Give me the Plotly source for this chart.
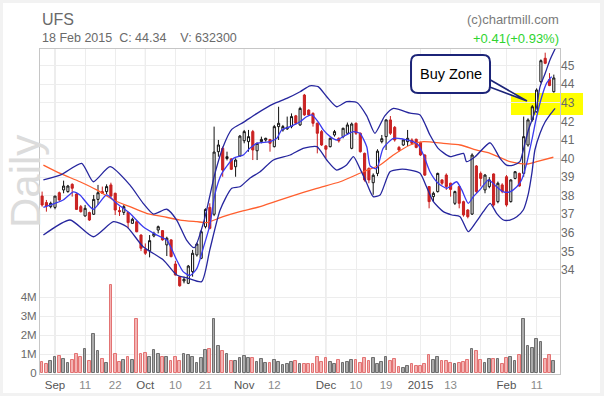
import plotly.graph_objects as go

# ---------------- data (trading-day index: 0 = 2 Sep 2014) ----------------
day = list(range(-3, 117))

opens = [37.98, 37.63, 37.41, 37.37, 38.16, 38.31, 38.22, 38.61, 38.09, 37.41,
         36.91, 37.09, 37.00, 37.80, 38.22, 38.22, 38.58, 38.13, 37.20, 37.10,
         37.10, 36.51, 36.60, 35.88, 35.11, 35.04, 35.83, 36.15, 36.12, 35.35,
         35.62, 34.32, 33.64, 33.41, 33.28, 33.91, 34.81, 34.63, 36.33, 37.37,
         37.00, 40.37, 40.55, 40.00, 39.98, 39.56, 40.14, 40.96, 40.91, 41.45,
         40.42, 40.91, 41.00, 41.03, 40.64, 41.72, 41.54, 41.60, 41.72, 42.30,
         41.81, 43.42, 42.61, 42.43, 41.90, 41.45, 40.68, 40.64, 41.27, 41.09,
         41.18, 41.36, 40.55, 41.90, 41.36, 40.28, 39.47, 38.70, 39.20, 40.91,
         41.18, 42.08, 41.68, 40.60, 40.73, 40.91, 41.00, 41.04, 40.86, 40.19,
         38.49, 37.95, 38.22, 38.85, 39.11, 38.67, 37.59, 38.49, 37.68, 37.23,
         37.01, 39.60, 39.20, 38.31, 38.49, 39.17, 37.68, 38.58, 39.02, 37.68,
         38.93, 39.20, 39.20, 40.73, 42.08, 42.52, 44.14, 45.40, 44.25, 43.60]
highs = [38.22, 37.77, 37.68, 37.98, 38.22, 38.81, 38.58, 38.67, 38.13, 37.50,
         37.50, 37.14, 38.04, 38.58, 38.49, 38.61, 38.70, 38.16, 37.41, 37.50,
         37.14, 36.82, 36.64, 35.92, 35.43, 35.88, 36.06, 36.39, 36.15, 35.79,
         35.65, 34.49, 33.68, 33.64, 34.27, 35.08, 35.47, 36.15, 37.32, 37.59,
         41.72, 41.00, 40.64, 40.37, 40.02, 40.01, 41.27, 41.54, 41.54, 41.54,
         40.86, 41.18, 41.12, 41.03, 41.81, 42.79, 41.81, 42.26, 42.43, 42.35,
         42.79, 43.48, 42.65, 42.49, 41.94, 41.54, 40.73, 41.14, 41.54, 41.14,
         41.66, 41.94, 41.94, 41.94, 41.40, 40.32, 39.52, 39.20, 40.50, 41.27,
         42.11, 42.29, 41.75, 40.68, 41.04, 41.54, 41.09, 41.07, 40.91, 40.23,
         38.52, 38.22, 39.24, 38.88, 39.20, 38.70, 38.27, 38.52, 37.73, 37.27,
         40.28, 39.65, 39.30, 39.17, 39.00, 39.20, 38.76, 38.67, 39.11, 38.88,
         39.33, 39.24, 42.26, 42.17, 42.88, 43.78, 45.34, 45.70, 44.60, 44.52]
lows = [37.41, 37.14, 37.32, 37.27, 37.73, 38.13, 38.16, 37.95, 37.23, 37.09,
        36.87, 36.64, 36.96, 37.50, 38.09, 38.09, 37.84, 36.96, 36.91, 36.96,
        36.24, 36.51, 36.03, 35.02, 34.81, 34.68, 35.76, 35.97, 35.58, 34.75,
        34.68, 33.70, 33.10, 33.28, 33.24, 33.64, 34.72, 34.58, 36.24, 36.19,
        36.90, 40.10, 39.02, 39.90, 39.38, 39.02, 40.10, 40.82, 40.37, 39.92,
        39.92, 40.82, 40.91, 40.37, 40.60, 41.00, 41.45, 41.54, 41.63, 41.81,
        41.76, 42.30, 42.30, 41.72, 40.28, 40.68, 40.01, 40.60, 41.18, 40.86,
        41.09, 41.27, 40.50, 41.27, 40.32, 38.76, 38.67, 38.05, 39.05, 40.82,
        40.46, 41.27, 40.91, 40.37, 40.68, 40.68, 40.73, 40.55, 40.14, 39.06,
        37.32, 37.68, 38.17, 38.58, 38.31, 37.95, 37.50, 37.32, 36.87, 36.78,
        36.96, 38.13, 38.50, 38.13, 38.40, 37.41, 37.59, 38.13, 37.41, 37.63,
        38.88, 38.49, 39.02, 40.64, 41.99, 42.47, 44.05, 45.08, 43.90, 43.55]
closes = [37.50, 37.45, 37.59, 37.98, 37.77, 38.52, 38.52, 38.40, 37.26, 37.14,
          37.32, 36.69, 37.80, 38.16, 38.13, 38.49, 37.98, 37.23, 37.14, 37.41,
          36.55, 36.73, 36.06, 35.17, 34.90, 35.58, 35.97, 36.33, 35.62, 35.71,
          34.72, 33.73, 33.15, 33.50, 34.21, 34.90, 35.40, 36.06, 37.26, 36.24,
          40.35, 40.73, 39.38, 40.10, 39.42, 39.92, 41.21, 41.45, 41.18, 40.46,
          40.82, 41.03, 41.09, 40.82, 41.72, 41.90, 41.72, 41.68, 42.26, 41.90,
          42.70, 42.35, 42.35, 41.90, 41.36, 40.73, 40.50, 41.09, 41.45, 40.95,
          41.63, 41.81, 41.86, 41.36, 40.37, 38.85, 38.85, 39.10, 40.40, 41.07,
          42.08, 41.36, 41.00, 40.46, 41.00, 41.09, 40.82, 40.60, 40.19, 39.11,
          37.68, 38.13, 39.20, 38.67, 38.49, 38.34, 38.22, 37.59, 36.96, 36.87,
          40.19, 38.22, 38.93, 39.11, 38.85, 37.50, 38.67, 38.22, 37.50, 38.85,
          39.29, 38.52, 41.18, 42.08, 42.79, 43.69, 45.27, 45.13, 43.93, 44.34]
volume_m = [0.58, 0.47, 0.63, 0.82, 0.89, 0.72, 0.53, 0.68, 1.00, 0.84,
            1.26, 0.63, 2.05, 1.16, 0.74, 0.53, 4.63, 1.00, 0.58, 0.68,
            0.84, 0.68, 2.84, 1.00, 1.05, 0.84, 1.21, 1.00, 0.84, 0.84,
            0.63, 0.84, 0.63, 1.00, 0.93, 0.84, 0.53, 0.79, 1.21, 1.26,
            2.84, 1.42, 1.16, 1.00, 0.63, 0.63, 0.79, 0.89, 0.79, 0.79,
            0.58, 0.74, 0.53, 0.53, 0.68, 0.58, 0.42, 0.47, 0.58, 0.63,
            0.47, 0.47, 0.47, 0.47, 0.84, 0.58, 0.79, 0.58, 0.47, 0.68,
            0.53, 0.58, 0.68, 0.68, 0.53, 0.79, 0.63, 0.79, 0.47, 0.58,
            0.84, 0.63, 0.74, 0.32, 0.26, 0.37, 0.47, 0.37, 0.37, 0.47,
            0.95, 0.68, 0.84, 0.63, 0.63, 0.53, 0.47, 0.53, 0.58, 0.68,
            1.26, 1.16, 0.68, 0.53, 0.74, 0.74, 0.74, 0.47, 0.79, 0.84,
            0.63, 0.95, 2.84, 1.42, 1.32, 1.79, 1.63, 0.74, 0.95, 0.6323]

# indicator lines: (trading-day position, price)
upper_x = [-2.7, 1.6, 6.2, 8.9, 12.8, 17.4, 20.5, 22.9, 26.0, 28.3, 30.6, 32.4, 34.6, 37.2,
           39.1, 41.1, 43.8, 46.9, 50.8, 53.9, 57.0, 59.3, 61.2, 63.2, 65.5, 67.8, 70.2,
           72.5, 74.4, 76.7, 78.7, 82.6, 84.9, 87.2, 89.1, 91.9, 95.0, 95.7, 97.7, 101.2,
           103.5, 105.0, 106.6, 108.1, 108.9, 110.1, 111.2, 112.0, 112.8, 114.0, 115.1, 116.5]
upper_y = [38.85, 39.15, 39.74, 38.75, 39.56, 38.58, 37.59, 37.01, 37.27, 36.69, 35.61, 35.20, 36.60, 39.20,
           40.64, 41.57, 41.95, 42.42, 42.94, 43.24, 43.60, 43.92, 43.87, 43.33, 42.79, 43.06, 43.02,
           42.30, 41.36, 42.30, 42.70, 42.44, 42.35, 41.27, 40.55, 40.10, 40.28, 39.83, 40.10, 40.85,
           40.01, 39.65, 39.65, 39.83, 40.46, 41.54, 42.25, 42.79, 43.87, 44.59, 45.31, 46.00]
middle_x = [-2.7, 0.0, 1.9, 4.3, 5.8, 8.9, 12.0, 14.3, 17.4, 20.5, 23.7, 26.0, 28.3, 29.8,
            31.4, 33.0, 34.5, 36.0, 37.2, 38.8, 41.5, 43.8, 45.3, 46.9, 50.0, 51.6, 52.7,
            54.7, 57.0, 58.5, 59.7, 61.2, 62.4, 64.0, 65.5, 67.0, 69.4, 70.9, 72.5, 73.3,
            74.8, 76.3, 78.7, 81.0, 83.3, 84.5, 85.7, 87.2, 89.1, 91.1, 93.4, 94.6, 96.1,
            97.3, 98.8, 100.8, 102.7, 104.3, 105.8, 107.4, 108.5, 109.7, 110.9, 112.0,
            113.2, 114.3, 115.5]
middle_y = [37.37, 37.59, 37.77, 38.21, 38.04, 37.27, 38.04, 37.59, 37.05, 36.33, 35.88, 35.61, 34.54, 33.91,
            33.70, 34.09, 35.20, 36.40, 38.10, 39.20, 40.01, 40.19, 40.55, 40.82, 40.91, 41.09, 41.54,
            41.72, 41.98, 42.25, 42.35, 41.98, 41.54, 41.18, 41.00, 41.18, 41.45, 41.36, 40.64, 39.60,
            39.45, 40.55, 41.09, 41.05, 40.91, 40.73, 40.19, 39.29, 38.67, 38.40, 38.75, 38.31, 37.59,
            37.95, 38.31, 38.85, 38.48, 38.21, 38.21, 38.48, 38.85, 39.74, 41.00, 42.25,
            43.33, 44.05, 44.41]
lower_x = [-2.7, 3.5, 8.9, 13.6, 16.7, 20.5, 25.2, 28.3, 31.0, 34.1, 36.0, 38.4, 41.1, 43.0,
           45.3, 47.7, 50.8, 54.7, 57.7, 60.9, 63.2, 65.5, 67.8, 69.4, 70.9, 72.5, 74.0,
           75.6, 77.9, 80.2, 82.6, 84.9, 86.4, 88.0, 90.3, 92.3, 94.2, 96.1, 97.7, 99.6,
           101.2, 102.7, 104.3, 105.8, 107.4, 108.9, 110.1, 110.9, 111.6, 112.8, 114.0, 115.1, 116.3]
lower_y = [35.88, 36.69, 35.79, 36.60, 36.33, 35.25, 34.54, 33.73, 33.55, 33.37, 35.08, 37.23, 38.40, 38.48,
           38.94, 39.29, 39.92, 40.19, 40.55, 40.64, 39.92, 39.38, 39.65, 40.10, 39.47, 38.67, 37.95,
           38.04, 39.29, 39.42, 39.38, 39.21, 38.48, 37.68, 37.14, 36.96, 36.87, 36.06, 36.51, 37.14,
           37.59, 37.05, 36.69, 36.69, 36.87, 37.23, 38.13, 39.21, 40.46, 41.36, 41.98, 42.35, 42.70]
sma_x = [-2.7, 1.2, 5.8, 9.7, 13.6, 17.4, 21.3, 25.2, 29.1, 33.0, 35.3, 39.1, 43.0, 47.7,
         54.7, 60.9, 66.3, 71.7, 75.6, 78.7, 82.6, 85.7, 90.3, 94.2, 98.1, 101.2, 105.8,
         109.7, 112.0, 115.9]
sma_y = [39.65, 39.20, 38.75, 38.31, 37.77, 37.41, 37.05, 36.87, 36.69, 36.60, 36.55, 36.87, 37.14, 37.41,
         37.95, 38.40, 38.75, 39.29, 39.65, 40.19, 40.73, 40.91, 40.82, 40.73, 40.46, 40.28, 39.83,
         39.70, 39.83, 40.07]

# axis ticks
date_tick_pos = [0, 7, 14, 21, 28, 35, 44, 51, 63, 70, 77, 85, 92, 99, 105, 112]
date_tick_txt = ['Sep', '11', '22', 'Oct', '10', '21', 'Nov', '12', 'Dec', '10', '19', '2015', '13', '', 'Feb', '11']
month_starts = [0, 21, 44, 63, 85, 105]
price_ticks = [34, 35, 36, 37, 38, 39, 40, 41, 42, 43, 44, 45]
vol_ticks = [0, 1, 2, 3, 4]
vol_tick_txt = ['0', '1M', '2M', '3M', '4M']

# ---------------- layout geometry ----------------
W, H = 604, 396
ML, MR, MT, MB = 40, 44, 49, 22
PW, PH = W - ML - MR, H - MT - MB
PX_PER_DAY = 4.3
PX_PER_PRICE = 18.57
PX_PER_M = 19.0


def fx(x):
    return (x - ML) / PW


def fy(y):
    return (H - MB - y) / PH


x_range = [(ML - 55) / PX_PER_DAY, (W - MR - 55) / PX_PER_DAY]
p_range = [45 - (H - MB - 65.7) / PX_PER_PRICE, 45 + (65.7 - MT) / PX_PER_PRICE]
v_range = [-(1.0) / PX_PER_M, (H - MB - 1 - MT) / PX_PER_M]

FONT = 'Liberation Sans, Arial, sans-serif'

up = [c >= o for o, c in zip(opens, closes)]
vol_fill = ['#ababab' if u else '#f3b3b3' for u in up]
vol_line = ['#6f6f6f' if u else '#e37373' for u in up]

fig = go.Figure()

fig.add_trace(go.Bar(x=day, y=volume_m, width=0.62, yaxis='y',
                     marker=dict(color=vol_fill, line=dict(color=vol_line, width=1)),
                     showlegend=False, hoverinfo='skip'))

fig.add_trace(go.Scatter(x=sma_x, y=sma_y, yaxis='y2', mode='lines',
                         line=dict(color='#ff5f2e', width=1.3, shape='spline', smoothing=0.6),
                         showlegend=False, hoverinfo='skip'))
for xs, ys, col in [(upper_x, upper_y, '#26269e'), (lower_x, lower_y, '#26269e'),
                    (middle_x, middle_y, '#3a3aef')]:
    fig.add_trace(go.Scatter(x=xs, y=ys, yaxis='y2', mode='lines',
                             line=dict(color=col, width=1.3, shape='spline', smoothing=0.6),
                             showlegend=False, hoverinfo='skip'))

fig.add_trace(go.Candlestick(x=day, open=opens, high=highs, low=lows, close=closes, yaxis='y2',
                             increasing=dict(line=dict(color='#111111', width=1), fillcolor='#ffffff'),
                             decreasing=dict(line=dict(color='#c81f1f', width=1), fillcolor='#cc2525'),
                             whiskerwidth=0, showlegend=False, hoverinfo='skip'))

tick_txt = []
for p, t in zip(date_tick_pos, date_tick_txt):
    if p in month_starts:
        tick_txt.append("<span style='color:#555555'>%s</span>" % t)
    else:
        tick_txt.append(t)

shapes = []
# outer panel
shapes.append(dict(type='rect', xref='paper', yref='paper', x0=fx(3), x1=fx(600), y0=fy(393), y1=fy(3),
                   fillcolor='#ffffff', line=dict(width=0), layer='below'))
# yellow buy zone highlight
shapes.append(dict(type='rect', xref='paper', yref='paper', x0=fx(511), x1=fx(583), y0=fy(115), y1=fy(93),
                   fillcolor='#ffff00', line=dict(width=0), layer='below'))
# darker month grid lines
for m in month_starts:
    shapes.append(dict(type='line', xref='x', yref='paper', x0=m, x1=m, y0=0, y1=1,
                       line=dict(color='#dadada', width=1), layer='below'))

# callout pointer (thin wedge)
wedge = 'M %.4f,%.4f L %.4f,%.4f L %.4f,%.4f Z' % (fx(487), fy(78), fx(527), fy(101), fx(487), fy(86))
shapes.append(dict(type='path', xref='paper', yref='paper', path=wedge,
                   fillcolor='#ffffff', line=dict(color='#1c2478', width=1.6), layer='above'))
# callout rounded box
bx0, bx1, by0, by1, r = 411, 490, 55, 93, 7
pts = [
    'M %.4f,%.4f' % (fx(bx0 + r), fy(by0)),
    'L %.4f,%.4f' % (fx(bx1 - r), fy(by0)),
    'Q %.4f,%.4f %.4f,%.4f' % (fx(bx1), fy(by0), fx(bx1), fy(by0 + r)),
    'L %.4f,%.4f' % (fx(bx1), fy(by1 - r)),
    'Q %.4f,%.4f %.4f,%.4f' % (fx(bx1), fy(by1), fx(bx1 - r), fy(by1)),
    'L %.4f,%.4f' % (fx(bx0 + r), fy(by1)),
    'Q %.4f,%.4f %.4f,%.4f' % (fx(bx0), fy(by1), fx(bx0), fy(by1 - r)),
    'L %.4f,%.4f' % (fx(bx0), fy(by0 + r)),
    'Q %.4f,%.4f %.4f,%.4f' % (fx(bx0), fy(by0), fx(bx0 + r), fy(by0)),
    'Z']
shapes.append(dict(type='path', xref='paper', yref='paper', path=' '.join(pts),
                   fillcolor='#ffffff', line=dict(color='#1c2478', width=2), layer='above'))

annotations = [
    dict(text='UFS', x=fx(40), y=fy(19), xref='paper', yref='paper', xanchor='left', yanchor='middle',
         showarrow=False, font=dict(family=FONT, size=16, color='#6a6a6a')),
    dict(text='18 Feb 2015\u00a0 C: 44.34\u00a0\u00a0\u00a0 V: 632300', x=fx(40), y=fy(38), xref='paper',
         yref='paper', xanchor='left', yanchor='middle', showarrow=False,
         font=dict(family=FONT, size=12.5, color='#6a6a6a')),
    dict(text='(c)chartmill.com', x=fx(561), y=fy(19), xref='paper', yref='paper', xanchor='right',
         yanchor='middle', showarrow=False, font=dict(family=FONT, size=13, color='#7a7a7a')),
    dict(text='+0.41(+0.93%)', x=fx(561), y=fy(38), xref='paper', yref='paper', xanchor='right',
         yanchor='middle', showarrow=False, font=dict(family=FONT, size=13, color='#2fd42f')),
    dict(text='Daily', x=fx(26), y=fy(182), xref='paper', yref='paper', xanchor='center', yanchor='middle',
         textangle=-90, showarrow=False, font=dict(family=FONT, size=42, color='#dcdcdc')),
    dict(text='Buy Zone', x=fx(450.5), y=fy(74), xref='paper', yref='paper', xanchor='center',
         yanchor='middle', showarrow=False, font=dict(family=FONT, size=14.5, color='#000000')),
]

fig.update_layout(
    width=W, height=H, autosize=False,
    margin=dict(l=ML, r=MR, t=MT, b=MB, pad=0, autoexpand=False),
    paper_bgcolor='#f2f2f2', plot_bgcolor='rgba(0,0,0,0)',
    showlegend=False, bargap=0,
    font=dict(family=FONT, size=11, color='#777777'),
    xaxis=dict(range=x_range, tickmode='array', tickvals=date_tick_pos, ticktext=tick_txt,
               showgrid=True, gridcolor='#ededed', gridwidth=1, zeroline=False, automargin=False,
               showline=True, linecolor='#c6c6c6', linewidth=1, mirror=True, ticks='',
               tickfont=dict(family=FONT, size=11.5, color='#8a8a8a'),
               rangeslider=dict(visible=False), fixedrange=True),
    yaxis=dict(range=v_range, tickmode='array', tickvals=vol_ticks, ticktext=vol_tick_txt,
               side='left', showgrid=True, gridcolor='#ededed', zeroline=False, automargin=False,
               showline=True, linecolor='#c6c6c6', linewidth=1, mirror=True, ticks='',
               tickfont=dict(family=FONT, size=11.5, color='#6a6a6a')),
    yaxis2=dict(range=p_range, tickmode='array', tickvals=price_ticks, overlaying='y', side='right',
                showgrid=True, gridcolor='#ededed', zeroline=False, showline=False, ticks='',
                automargin=False, tickfont=dict(family=FONT, size=12, color='#6a6a6a')),
    shapes=shapes,
    annotations=annotations,
)

fig.write_html('out.html', config={'displayModeBar': False, 'responsive': False},
               post_script="document.body.style.margin='0';document.body.style.padding='0';")
